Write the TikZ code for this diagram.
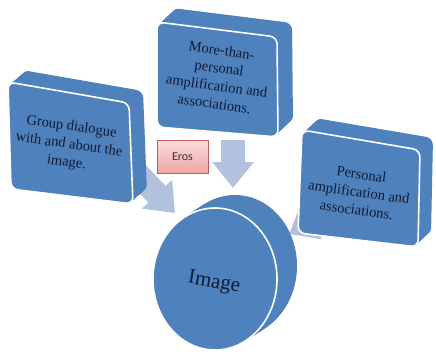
\documentclass[tikz,border=0pt]{standalone}
\usepackage{fontspec}
\setmainfont{Liberation Serif}
\newfontfamily\erosfont{Carlito}
\usetikzlibrary{arrows.meta}

\definecolor{slab}{HTML}{4F81BD}
\definecolor{face}{HTML}{4F81BD}
\definecolor{arrowfill}{HTML}{B2C1DE}
\definecolor{txt}{HTML}{101A33}
\definecolor{erostop}{HTML}{FBDCDC}
\definecolor{erosbot}{HTML}{EEA6A6}
\definecolor{erosline}{HTML}{C45A58}

\begin{document}
\begin{tikzpicture}[x=1pt,y=-1pt,
  slabpart/.style={fill=slab, rounded corners=7pt},
  facepart/.style={fill=face, draw=white, line width=1.6pt, rounded corners=7pt},
  boxtext/.style={text=txt, align=center, font=\fontsize{14.5}{18}\selectfont, rotate=-8, inner sep=0pt},
  blockarrow/.style={draw=arrowfill, line width=24pt,
    -{Triangle[width=40pt,length=26pt]}},
  erosbox/.style={draw=erosline, line width=0.8pt, top color=erostop, bottom color=erosbot,
    minimum width=51pt, minimum height=33pt, inner sep=0pt,
    font=\erosfont\fontsize{12}{14}\selectfont, text=black!80}
]
\useasboundingbox (0,0) rectangle (436,351);

% connector end points
\coordinate (ls) at (128,164);
\coordinate (lt) at (175,213);
\coordinate (ts) at (233,140);
\coordinate (tt) at (233,188);
\coordinate (rs) at (340,205);
\coordinate (rt) at (289,234);

% block arrows pointing at the disk
\draw[blockarrow] (ls) -- (lt);
\draw[blockarrow] (ts) -- (tt);
\draw[blockarrow] (rs) -- (rt);

% left slab
\foreach \k in {0,0.05,...,1.001}
  \fill[slabpart, shift={({\k*14},{-\k*12})}] (8,82) -- (129,103) -- (133,204) -- (11,189) -- cycle;
\filldraw[facepart] (8,82) -- (129,103) -- (133,204) -- (11,189) -- cycle;
\node[boxtext] (grp) at (69,145) {Group dialogue\\with and about the\\image.};

% top slab
\foreach \k in {0,0.05,...,1.001}
  \fill[slabpart, shift={({\k*15},{-\k*14})}] (157,22) -- (277,37) -- (278,137) -- (157,127) -- cycle;
\filldraw[facepart] (157,22) -- (277,37) -- (278,137) -- (157,127) -- cycle;
\node[boxtext] (more) at (218,77) {More-than-\\personal\\amplification and\\associations.};

% right slab
\foreach \k in {0,0.05,...,1.001}
  \fill[slabpart, shift={({\k*13},{-\k*12})}] (302,130) -- (420,150) -- (418,247) -- (298,233) -- cycle;
\filldraw[facepart] (302,130) -- (420,150) -- (418,247) -- (298,233) -- cycle;
\node[boxtext] (pers) at (359,192) {Personal\\amplification and\\associations.};

% disk
\foreach \k in {0,0.05,...,1.001}
  \fill[slab] ({215+\k*20},{279-\k*13}) ellipse [x radius=62pt, y radius=71pt];
\filldraw[fill=face, draw=white, line width=1.6pt] (215,279) ellipse [x radius=62pt, y radius=71pt];
\node[text=txt, font=\fontsize{21}{24}\selectfont, rotate=-10, inner sep=0pt] (img) at (214,283) {Image};

% label box
\node[erosbox] (eros) at (182.5,156.5) {Eros};

\end{tikzpicture}
\end{document}
